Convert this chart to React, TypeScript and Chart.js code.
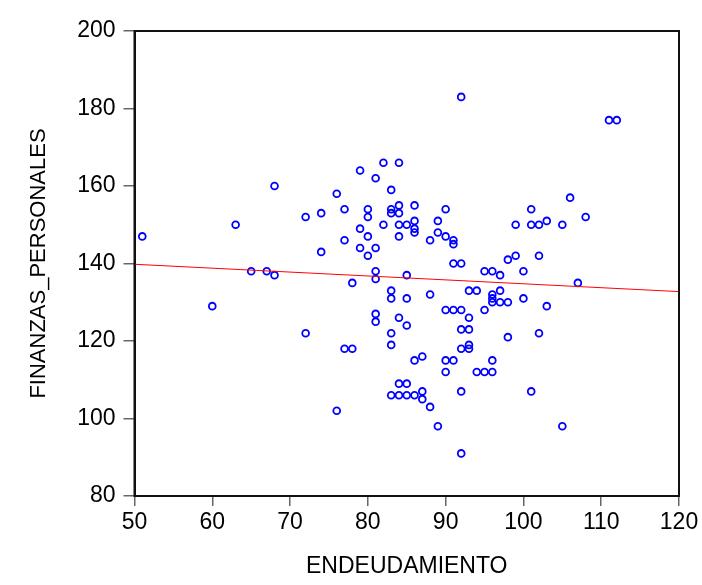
import React, { useEffect, useRef } from "react";
import { Chart, registerables } from "chart.js";

Chart.register(...registerables);

// ENDEUDAMIENTO (x) and FINANZAS_PERSONALES (y) observations
const endeudamiento = [
  51, 60, 63, 65, 67, 68, 68, 72, 72, 74, 74, 76, 76, 77, 77, 77, 78, 78, 79, 79,
  79, 80, 80, 80, 80, 81, 81, 81, 81, 81, 81, 82, 82, 83, 83, 83, 83, 83, 83, 83,
  83, 84, 84, 84, 84, 84, 84, 84, 84, 85, 85, 85, 85, 85, 85, 86, 86, 86, 86, 86,
  86, 87, 87, 87, 88, 88, 88, 89, 89, 89, 90, 90, 90, 90, 90, 91, 91, 91, 91, 91,
  92, 92, 92, 92, 92, 92, 92, 93, 93, 93, 93, 93, 94, 94, 95, 95, 95, 96, 96, 96,
  96, 96, 96, 97, 97, 97, 98, 98, 98, 99, 99, 100, 100, 101, 101, 101, 102, 102, 102, 103,
  103, 105, 105, 106, 107, 108, 111, 112,
];
const finanzasPersonales = [
  147, 129, 150, 138, 138, 160, 137, 152, 122, 153, 143, 158, 102, 154, 146, 118, 135, 118, 164, 149,
  144, 154, 152, 147, 142, 162, 144, 138, 136, 127, 125, 166, 150, 159, 154, 153, 133, 131, 122, 119,
  106, 166, 155, 153, 150, 147, 126, 109, 106, 150, 137, 131, 124, 109, 106, 155, 151, 149, 148, 115,
  106, 116, 107, 105, 146, 132, 103, 151, 148, 98, 154, 147, 128, 115, 112, 146, 145, 140, 128, 115,
  183, 140, 128, 123, 118, 107, 91, 133, 126, 123, 119, 118, 133, 112, 138, 128, 112, 138, 132, 131,
  130, 115, 112, 137, 133, 130, 141, 130, 121, 150, 142, 138, 131, 154, 150, 107, 150, 142, 122, 151,
  129, 150, 98, 157, 135, 152, 177, 177,
];
// fitted regression line endpoints
const fitX = [50, 120];
const fitY = [139.8, 132.75];

const xTicks = [50, 60, 70, 80, 90, 100, 110, 120];
const yTicks = [80, 100, 120, 140, 160, 180, 200];

const frame = {
  id: "frame",
  afterDatasetsDraw(chart: any) {
    const { ctx, chartArea } = chart;
    ctx.save();
    ctx.strokeStyle = "#111";
    ctx.lineWidth = 2;
    ctx.strokeRect(chartArea.left, chartArea.top, chartArea.right - chartArea.left, chartArea.bottom - chartArea.top);
    ctx.restore();
  },
};

export default function App() {
  const ref = useRef<HTMLCanvasElement>(null);
  useEffect(() => {
    if (!ref.current) return;
    const pts = endeudamiento.map((x, i) => ({ x, y: finanzasPersonales[i] }));
    const fit = fitX.map((x, i) => ({ x, y: fitY[i] }));
    const font = { family: "'Liberation Sans', Arial, sans-serif", size: 23 };
    const chart = new Chart(ref.current, {
      type: "scatter",
      data: {
        datasets: [
          {
            type: "line",
            data: fit,
            borderColor: "#ff0000",
            borderWidth: 1,
            pointRadius: 0,
            fill: false,
          } as any,
          {
            data: pts,
            pointRadius: 3.4,
            pointBorderWidth: 1.8,
            pointBorderColor: "#0000ff",
            pointBackgroundColor: "rgba(0,0,0,0)",
            borderColor: "#0000ff",
          },
        ],
      },
      options: {
        animation: false,
        responsive: false,
        devicePixelRatio: 1,
        layout: { padding: { top: 31, right: 23, left: 0, bottom: 0 } },
        plugins: { legend: { display: false }, tooltip: { enabled: false } },
        scales: {
          x: {
            type: "linear",
            min: 50,
            max: 120,
            afterBuildTicks: (s: any) => { s.ticks = xTicks.map((v) => ({ value: v })); },
            afterFit: (s: any) => { s.height = 89; },
            grid: { drawOnChartArea: false, drawTicks: true, tickLength: 10, color: "#666", lineWidth: 1.5 },
            border: { display: true, color: "#111", width: 2 },
            ticks: { color: "#000", font, padding: 3, maxRotation: 0 },
            title: { display: true, text: "ENDEUDAMIENTO", color: "#000", font: { family: "'Liberation Sans', Arial, sans-serif", size: 23 }, padding: { top: 0, bottom: 5 } },
          },
          y: {
            type: "linear",
            min: 80,
            max: 200,
            afterBuildTicks: (s: any) => { s.ticks = yTicks.map((v) => ({ value: v })); },
            afterFit: (s: any) => { s.width = 134.5; },
            grid: { drawOnChartArea: false, drawTicks: true, tickLength: 11, color: "#666", lineWidth: 1.5 },
            border: { display: true, color: "#111", width: 2 },
            ticks: { color: "#000", font, padding: 8 },
            title: { display: true, text: "FINANZAS_PERSONALES", color: "#000", font: { family: "'Liberation Sans', Arial, sans-serif", size: 22 }, padding: { top: 26, bottom: 0 } },
          },
        },
      },
      plugins: [frame],
    });
    return () => chart.destroy();
  }, []);
  return (
    <div style={{ position: "fixed", left: 0, top: 0, width: 702, height: 585, background: "#fff" }}>
      <canvas ref={ref} width={702} height={585} style={{ width: 702, height: 585, display: "block" }} />
    </div>
  );
}
